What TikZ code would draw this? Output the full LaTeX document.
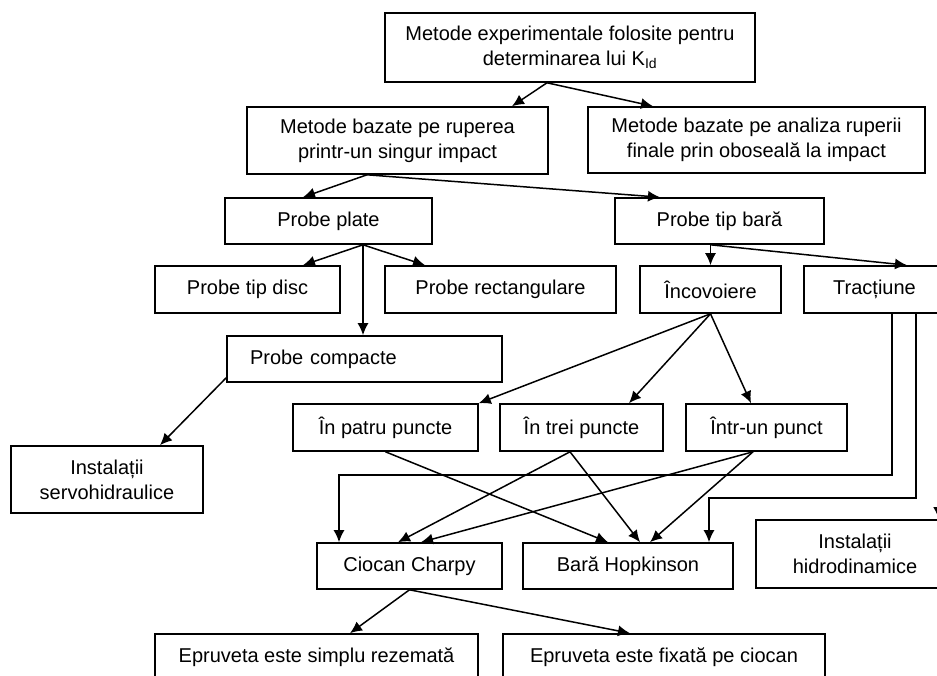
\documentclass[tikz,border=0pt]{standalone}
\usepackage{fontspec}
\setmainfont{Liberation Sans}
\usetikzlibrary{arrows.meta}

\begin{document}
\begin{tikzpicture}[
x=1pt, y=-1pt,
box/.style={
  draw,
  rectangle,
  line width=1.6pt,
  inner sep=0pt,
  align=center,
  font=\fontsize{20}{25}\selectfont
  },
link/.style={
  ->,
  line width=1.5pt
  },
>={Latex[length=12pt,width=11pt]}
]

\useasboundingbox (0,0) rectangle (937,676);
\clip (0,0) rectangle (937,676);

% boxes, top to bottom
\node[box, minimum width=370, minimum height=69] (exp) at (570,47.5)
  {Metode experimentale folosite pentru\\determinarea lui K\textsubscript{Id}};
\node[box, minimum width=301, minimum height=67] (single) at (397.5,140.5)
  {Metode bazate pe ruperea\\printr-un singur impact};
\node[box, minimum width=337, minimum height=66] (fatigue) at (756.5,140)
  {Metode bazate pe analiza ruperii\\finale prin oboseală la impact};
\node[box, minimum width=207, minimum height=46] (plate) at (328.5,221) {Probe plate};
\node[box, minimum width=209, minimum height=46] (bar) at (719.5,221) {Probe tip bară};
\node[box, minimum width=185, minimum height=47] (disc) at (247.5,289.5) {Probe tip disc};
\node[box, minimum width=231, minimum height=47] (rect) at (500.5,289.5) {Probe rectangulare};
\node[box, minimum width=141, minimum height=47] (bend) at (710.5,289.5) {Încovoiere};
\node[box, minimum width=141, minimum height=47] (tension) at (874.5,289.5) {Tracțiune};
\node[box, minimum width=275, minimum height=46, text width=229, align=left] (compact)
  at (364.5,359) {Probe compacte};
\node[box, minimum width=192, minimum height=67] (servo) at (107,479.5)
  {Instalații\\servohidraulice};
\node[box, minimum width=185, minimum height=47] (four) at (385.5,427.5) {În patru puncte};
\node[box, minimum width=163, minimum height=47] (three) at (581.5,427.5) {În trei puncte};
\node[box, minimum width=161, minimum height=47] (one) at (766.5,427.5) {Într-un punct};
\node[box, minimum width=185, minimum height=46] (charpy) at (409.5,566) {Ciocan Charpy};
\node[box, minimum width=210, minimum height=46] (hopkinson) at (628,566) {Bară Hopkinson};
\node[box, minimum width=198, minimum height=68] (hydro) at (855,554)
  {Instalații\\hidrodinamice};
\node[box, minimum width=323, minimum height=46] (simple) at (316.5,657)
  {Epruveta este simplu rezemată};
\node[box, minimum width=322, minimum height=46] (fixed) at (664,657)
  {Epruveta este fixată pe ciocan};

% arrows
\draw[link] ([xshift=-23]exp.south) -- ([xshift=114.5]single.north);
\draw[link] ([xshift=-23]exp.south) -- ([xshift=-103.5]fatigue.north);
\draw[link] ([xshift=-30.5]single.south) -- ([xshift=-25.5]plate.north);
\draw[link] ([xshift=-30.5]single.south) -- ([xshift=-59.5]bar.north);
\draw[link] ([xshift=34.5]plate.south) -- ([xshift=55.5]disc.north);
\draw[link] ([xshift=34.5]plate.south) -- ([xshift=-75.5]rect.north);
\draw[link] ([xshift=34.5]plate.south) -- ([xshift=-1.5]compact.north);
\draw[link] (bend.north |- bar.south) -- (bend.north);
\draw[link] (bend.north |- bar.south) -- ([xshift=32.5]tension.north);
\draw[link] (bend.south) -- (four.north east);
\draw[link] (bend.south) -- ([xshift=47.5]three.north);
\draw[link] (bend.south) -- ([xshift=-15.5]one.north);
\draw[link] ([yshift=5]compact.south west) -- ([xshift=53]servo.north);
\draw[link] (four.south) -- ([xshift=-20]hopkinson.north);
\foreach \src/\sx/\cx/\hx in {three/-11.5/-11.5/12, one/-13.5/11.5/22}
{
  \draw[link] ([xshift=\sx]\src.south) -- ([xshift=\cx]charpy.north);
  \draw[link] ([xshift=\sx]\src.south) -- ([xshift=\hx]hopkinson.north);
}
\draw[link] ([xshift=89]tension.south west) -- ++(0,161) -| ([xshift=-70.5]charpy.north);
\draw[link] ([xshift=113]tension.south west) -- ++(0,184) -| ([xshift=81]hopkinson.north);
\coordinate (drop) at ([xshift=135.5]tension.south west);
\draw[link] (drop) -- (drop |- hydro.north);
\draw[link] (charpy.south) -- ([xshift=33.5]simple.north);
\draw[link] (charpy.south) -- ([xshift=-34]fixed.north);
\end{tikzpicture}
\end{document}
